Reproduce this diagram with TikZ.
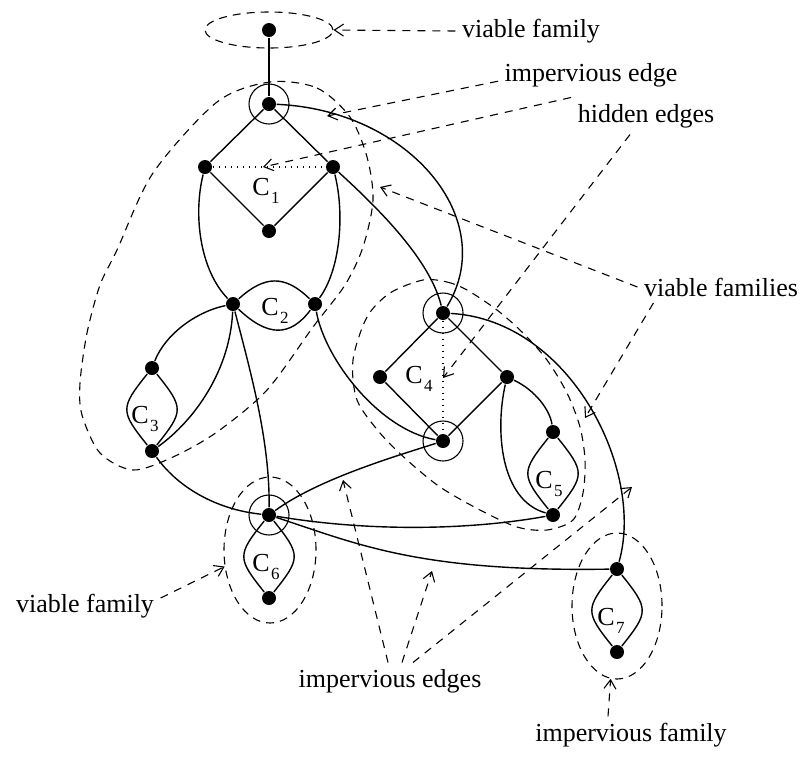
\documentclass[tikz,border=0pt]{standalone}
\usepackage{fontspec}
\setmainfont{Liberation Serif}
\usetikzlibrary{arrows.meta, shapes.geometric}
\tikzset{
  >={Straight Barb[length=4.5pt,width=6pt]},
  vtx/.style={circle, fill, inner sep=0pt, minimum size=7pt},
  fam/.style={draw, dash pattern=on 4pt off 3pt, line width=0.55pt},
  famnode/.style={fam, ellipse, inner sep=0pt},
  ptr/.style={->, dash pattern=on 4pt off 3.5pt, line width=0.55pt},
  hid/.style={dash pattern=on 0.7pt off 2.3pt, line width=0.8pt},
  note/.style={font=\fontsize{13}{15}\selectfont, inner sep=3pt},
  cname/.style={font=\fontsize{13}{15}\selectfont, inner sep=0pt},
}
\newcommand{\comp}[1]{C\kern0.6pt\raisebox{-4pt}{\fontsize{8.5}{9}\selectfont #1}}

\begin{document}
\begin{tikzpicture}[x=0.5pt, y=-0.5pt, line width=0.7pt]
  \useasboundingbox (0,0) rectangle (806,756);

  % vertices
  \node[vtx] (t0) at (269,30) {};
  \node[vtx] (a1) at (269,104) {};
  \node[vtx] (b1) at (205,167) {};
  \node[vtx] (c1) at (333,167) {};
  \node[vtx] (d1) at (269,231) {};
  \node[vtx] (a2) at (233,304) {};
  \node[vtx] (b2) at (315,304) {};
  \node[vtx] (a3) at (152,368) {};
  \node[vtx] (b3) at (152,451) {};
  \node[vtx] (a4) at (443,313) {};
  \node[vtx] (b4) at (380,377) {};
  \node[vtx] (c4) at (507,377) {};
  \node[vtx] (d4) at (443,441) {};
  \node[vtx] (a5) at (553,432) {};
  \node[vtx] (b5) at (553,515) {};
  \node[vtx] (a6) at (269,515) {};
  \node[vtx] (b6) at (269,598) {};
  \node[vtx] (a7) at (617,569) {};
  \node[vtx] (b7) at (617,652) {};

  \foreach \v in {a1,a4,d4,a6}
    \draw[line width=0.55pt] (\v) circle[radius=10pt];

  % component names
  \node[cname] (l1) at (266,191) {\comp{1}};
  \node[cname] (l2) at (275,311) {\comp{2}};
  \node[cname] (l3) at (145,419) {\comp{3}};
  \node[cname] (l4) at (419,379) {\comp{4}};
  \node[cname] (l5) at (549,484) {\comp{5}};
  \node[cname] (l6) at (266,567) {\comp{6}};
  \node[cname] (l7) at (611,621) {\comp{7}};

  % edges
  \draw (t0) -- (a1);
  \draw (a1) -- (b1) -- (d1) -- (c1) -- (a1);
  \draw (a4) -- (b4) -- (d4) -- (c4) -- (a4);
  \draw[hid] (b1) -- (c1);
  \draw[hid] (a4) -- (d4);
  \draw (a2) .. controls (265,275) and (285,275) .. (b2);
  \draw (a2) .. controls (268,337) and (290,337) .. (b2);
  \foreach \u/\v in {a3/b3, a5/b5, a6/b6, a7/b7}
    \draw (\u) .. controls +(-32,40) and +(-32,-40) .. (\v)
          (\u) .. controls +(32,40) and +(32,-40) .. (\v);
  \draw (b1) .. controls (193,215) and (200,270) .. (a2);
  \draw (c1) .. controls (345,215) and (340,270) .. (b2);
  \draw (a2) .. controls (195,312) and (165,335) .. (a3);
  \draw (b3) .. controls (195,420) and (230,370) .. (a2);
  \draw (a2) .. controls (250,370) and (270,440) .. (a6);
  \draw (b3) .. controls (180,490) and (220,510) .. (a6);
  \draw (b2) .. controls (325,360) and (380,430) .. (d4);
  \draw (c1) .. controls (380,210) and (430,260) .. (a4);
  \draw (a1) .. controls (410,110) and (500,220) .. (a4);
  \draw (a4) .. controls (570,320) and (645,470) .. (a7);
  \draw (c4) .. controls (535,390) and (550,410) .. (a5);
  \draw (c4) .. controls (495,430) and (500,500) .. (b5);
  \draw (d4) .. controls (400,455) and (320,478) .. (a6);
  \draw (a6) .. controls (370,532) and (470,530) .. (b5);
  \draw (a6) .. controls (360,545) and (420,572) .. (a7);

  % families
  \node[famnode, minimum width=64pt, minimum height=18pt] (famT) at (269,30) {};
  \node[famnode, minimum width=46pt, minimum height=73pt] (famSix) at (270,550) {};
  \node[famnode, minimum width=45pt, minimum height=73pt] (famSeven) at (617,606) {};
  \draw[fam] plot[smooth cycle] coordinates {(270,82) (317,88) (350,117) (367,157)
    (373,200) (363,247) (345,285) (313,327) (267,390) (217,432) (173,457) (133,470)
    (100,453) (82,415) (80,383) (87,333) (100,285) (117,250) (153,173) (217,102)};
  \draw[fam] plot[smooth cycle] coordinates {(423,280) (447,282) (467,290) (497,310)
    (523,333) (547,360) (567,393) (580,427) (585,460) (583,493) (573,520) (547,530)
    (517,527) (480,510) (440,487) (407,460) (380,433) (357,400) (353,360) (367,317)
    (390,293)};

  % notes
  \node[note] (tfam) at (531,31) {viable family};
  \node[note] (timpe) at (591,75) {impervious edge};
  \node[note] (thid) at (646,116) {hidden edges};
  \node[note] (tvfs) at (721,287) {viable families};
  \node[note] (tvf) at (85,606) {viable family};
  \node[note] (tie) at (390,681) {impervious edges};
  \node[note] (tif) at (631,735) {impervious family};

  \coordinate (pImp) at (327,116);
  \coordinate (pHidA) at (263,167);
  \coordinate (pHidB) at (443,378);
  \coordinate (pFamA) at (380,187);
  \coordinate (pFamB) at (585,418);
  \coordinate (pImpA) at (343,480);
  \coordinate (pImpB) at (432,571);
  \coordinate (pImpC) at (632,487);

  \draw[ptr] (tfam.west) -- (famT.east);
  \draw[ptr] (timpe.base west) -- (pImp);
  \draw[ptr] (thid.north west) -- (pHidA);
  \draw[ptr] ([xshift=-8pt]thid.south) -- (pHidB);
  \draw[ptr] (tvfs.west) -- (pFamA);
  \draw[ptr] ([xshift=8pt]tvfs.south west) -- (pFamB);
  \draw[ptr] ([yshift=4pt]tvf.east) -- (famSix.200);
  \draw[ptr] ([xshift=-1pt]tie.north) -- (pImpA);
  \draw[ptr] ([xshift=6pt]tie.north) -- (pImpB);
  \draw[ptr] ([xshift=11.5pt]tie.north) -- (pImpC);
  \draw[ptr] ([xshift=-11.5pt]tif.north) -- (famSeven.265);
\end{tikzpicture}
\end{document}
